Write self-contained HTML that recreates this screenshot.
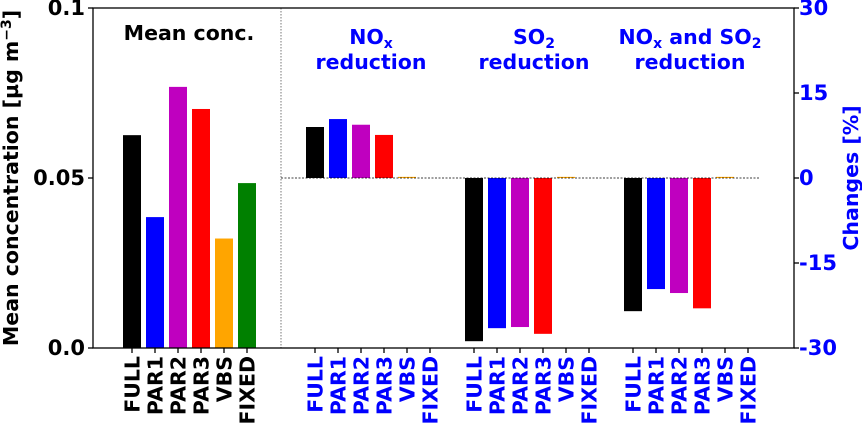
<!DOCTYPE html>
<html><head><meta charset="utf-8"><style>
html,body{margin:0;padding:0;background:#fff;}
svg{display:block;font-family:"DejaVu Sans","Liberation Sans",sans-serif;font-weight:bold;}
</style></head><body>
<svg id="chart" width="862" height="428" viewBox="0 0 862 428">
<g id="marks"></g>
<g id="axes"></g>
</svg>
<script>
const cats = ["FULL","PAR1","PAR2","PAR3","VBS","FIXED"];
const colors = ["#000000","#0000ff","#bf00bf","#ff0000","#ffa500","#008000"];
const meanConc = [0.0626,0.0385,0.0768,0.0703,0.0322,0.0485];
const noxChange = [9.0,10.4,9.4,7.6,0.2,0];
const so2Change = [-28.8,-26.5,-26.3,-27.5,0.2,0];
const bothChange = [-23.5,-19.6,-20.3,-23.0,0.2,0];
const leftTicks = [0,0.05,0.1];
const leftTickLabels = ["0.0","0.05","0.1"];
const rightTicks = [30,15,0,-15,-30];

const NS="http://www.w3.org/2000/svg";
const X0=93,X1=794,Y0=8,Y1=348;
const yL=v=>Y1-(v/0.1)*(Y1-Y0);
const yR=v=>178-(v/30)*170;
const groupStart=[132,315,474,633];
const step=23, bw=18;
const marks=document.getElementById('marks'), axes=document.getElementById('axes');
function el(tag,attrs,parent,text){const e=document.createElementNS(NS,tag);for(const k in attrs)e.setAttribute(k,attrs[k]);if(text!==undefined)e.textContent=text;parent.appendChild(e);return e;}

meanConc.forEach((v,i)=>{
  const cx=groupStart[0]+i*step;
  const r=el('rect',{x:cx-bw/2,y:yL(v),width:bw,height:yL(0)-yL(v),fill:colors[i]},marks);
  
  
});
const groups=[noxChange,so2Change,bothChange];
const gnames=["nox","so2","both"];
groups.forEach((arr,g)=>{
  arr.forEach((v,i)=>{
    if(v===0)return;
    const cx=groupStart[g+1]+i*step;
    const y=Math.min(yR(v),yR(0));
    const h=Math.max(Math.abs(yR(v)-yR(0)),1);
    const r=el('rect',{x:cx-bw/2,y:y,width:bw,height:h,fill:colors[i]},marks);
    
    
  });
});
el('line',{x1:281,x2:759,y1:yR(0),y2:yR(0),stroke:'#000','stroke-width':0.8,'stroke-dasharray':'2,1.5'},axes);
el('line',{x1:281,x2:281,y1:Y0,y2:Y1,stroke:'#555','stroke-width':0.8,'stroke-dasharray':'1.5,1.5'},axes);
const fr=el('rect',{x:X0,y:Y0,width:X1-X0,height:Y1-Y0,fill:'none',stroke:'#000','stroke-width':1.3},axes);

leftTicks.forEach((t,i)=>{
  const y=yL(t);
  el('line',{x1:X0-5,x2:X0,y1:y,y2:y,stroke:'#000','stroke-width':1.3},axes);
  const tx=el('text',{x:X0-8,y:y+7,'text-anchor':'end','font-size':21,fill:'#000'},axes,leftTickLabels[i]);
  
  
});
rightTicks.forEach(t=>{
  const y=yR(t);
  el('line',{x1:X1,x2:X1+5,y1:y,y2:y,stroke:'#000','stroke-width':1.3},axes);
  const tx=el('text',{x:X1+5,y:y+7,'font-size':21,fill:'#0000ff'},axes,String(t));
  
  
});
groupStart.forEach((gs,g)=>{
  cats.forEach((c,i)=>{
    const cx=gs+i*step;
    el('line',{x1:cx,x2:cx,y1:Y1,y2:Y1+5,stroke:'#000','stroke-width':1.3},axes);
    const tx=el('text',{x:0,y:0,transform:`translate(${cx+7.5},${Y1+8}) rotate(-90)`,'text-anchor':'end','font-size':20.5,fill:g===0?'#000':'#0000ff'},axes,c);
    
    
  });
});
</script>
<svg width="862" height="428" style="position:absolute;left:0;top:0">
<text x="18" y="178" transform="rotate(-90 18 178)" text-anchor="middle" font-size="20.5" fill="#000">Mean concentration [µg m<tspan dy="-7" font-size="14">−3</tspan><tspan dy="7">]</tspan></text>
<text x="858" y="178" transform="rotate(-90 858 178)" text-anchor="middle" font-size="20.5" fill="#0000ff">Changes [%]</text>
<text x="189" y="40" text-anchor="middle" font-size="20.5" fill="#000">Mean conc.</text>
<text x="371" y="44" text-anchor="middle" font-size="20.5" fill="#0000ff">NO<tspan dy="4" font-size="14">x</tspan></text>
<text x="371" y="69" text-anchor="middle" font-size="20.5" fill="#0000ff">reduction</text>
<text x="534" y="44" text-anchor="middle" font-size="20.5" fill="#0000ff">SO<tspan dy="4" font-size="14">2</tspan></text>
<text x="534" y="69" text-anchor="middle" font-size="20.5" fill="#0000ff">reduction</text>
<text x="690" y="44" text-anchor="middle" font-size="20.5" fill="#0000ff">NO<tspan dy="4" font-size="14">x</tspan><tspan dy="-4"> and SO</tspan><tspan dy="4" font-size="14">2</tspan></text>
<text x="690" y="69" text-anchor="middle" font-size="20.5" fill="#0000ff">reduction</text>
</svg>
</body></html>
